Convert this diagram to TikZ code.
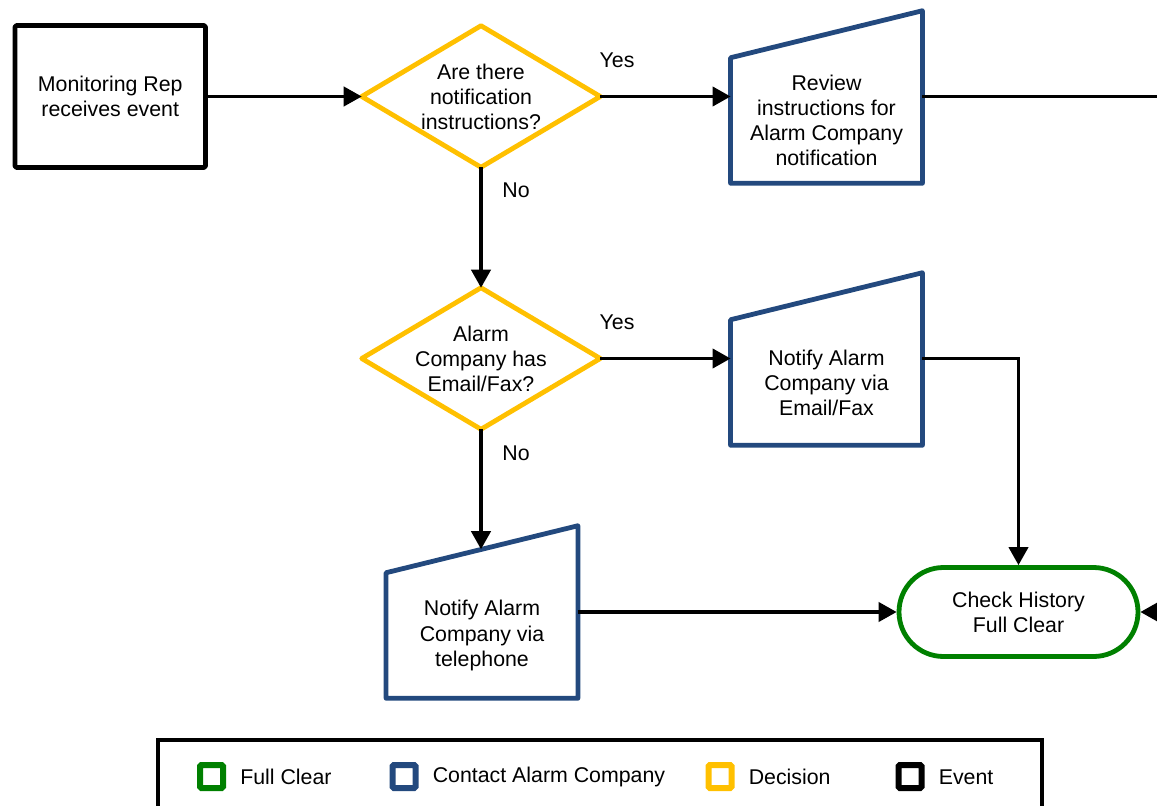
\documentclass[tikz,border=0pt]{standalone}
\usepackage{fontspec}
\setmainfont{Liberation Sans}
\usetikzlibrary{arrows.meta,shapes.misc,calc}

\definecolor{evtblack}{HTML}{000000}
\definecolor{decyellow}{HTML}{FFC000}
\definecolor{contactblue}{HTML}{23497E}
\definecolor{cleargreen}{HTML}{008000}

\begin{document}
\begin{tikzpicture}[x=0.75pt,y=-0.75pt,
  every node/.style={font=\fontsize{16}{18.8}\selectfont, align=center},
  shapeline/.style={line width=3.6pt, line join=round},
  eventbox/.style={draw=evtblack, shapeline, rounded corners=1.5pt,
    minimum width=142.9pt, minimum height=106.5pt, inner sep=0pt},
  decisionbox/.style={minimum width=178.5pt, minimum height=105.75pt, inner sep=0pt},
  inputbox/.style={minimum width=143.5pt, minimum height=93.75pt, inner sep=0pt},
  clearbox/.style={draw=cleargreen, shapeline, rounded rectangle,
    minimum width=179.25pt, minimum height=66.75pt, inner sep=0pt},
  flow/.style={line width=2.3pt, -{Triangle[length=13.5pt,width=14.5pt]}},
  plainflow/.style={line width=2.3pt},
  answer/.style={inner sep=0pt},
  legendkey/.style={line width=4.5pt, rounded corners=1pt},
  legendtext/.style={anchor=west, inner sep=0pt}
]
\useasboundingbox (0,0) rectangle (1157,806);
\clip (0,0) rectangle (1157,806);

% ---- event ----
\node[eventbox] (ev) at (110.25,96.5) {Monitoring Rep\\receives event};

% ---- decisions (diamonds drawn through the corner anchors) ----
\node[decisionbox] (d1) at (481,96.5) {Are there\\notification\\instructions?};
\draw[decyellow, shapeline] (d1.north) -- (d1.east) -- (d1.south) -- (d1.west) -- cycle;

\node[decisionbox] (d2) at (481,358.5) {Alarm\\Company has\\Email/Fax?};
\draw[decyellow, shapeline] (d2.north) -- (d2.east) -- (d2.south) -- (d2.west) -- cycle;

% ---- contact steps (manual input shapes with a sloped top) ----
\node[inputbox] (rev) at (826.5,120.5) {Review\\instructions for\\Alarm Company\\notification};
\draw[contactblue, shapeline] (rev.south west) -- (rev.north west)
  -- ($(rev.north east)+(0,-47)$) -- (rev.south east) -- cycle;

\node[inputbox] (eml) at (826.5,382.5) {Notify Alarm\\Company via\\Email/Fax};
\draw[contactblue, shapeline] (eml.south west) -- (eml.north west)
  -- ($(eml.north east)+(0,-47)$) -- (eml.south east) -- cycle;

\node[inputbox] (tel) at (482,635.5) {Notify Alarm\\Company via\\telephone};
\draw[contactblue, shapeline] (tel.south west) -- (tel.north west)
  -- coordinate (teltop) ($(tel.north east)+(0,-47)$) -- (tel.south east) -- cycle;

% ---- full clear ----
\node[clearbox] (term) at (1018.5,612) {Check History\\Full Clear};

% ---- loose ends at the right border ----
\coordinate (outR) at (1165,96.5);
\coordinate (inR) at (1165,612);

% ---- connectors ----
\draw[flow] (ev.east) -- (d1.west);
\draw[flow] (d1.east) -- (d1.east -| rev.west);
\draw[plainflow] (rev.east |- d1.east) -- (outR);
\draw[flow] (d1.south) -- (d2.north);
\draw[flow] (d2.east) -- (d2.east -| eml.west);
\draw[flow, line join=miter] (eml.east |- d2.east) -- (term.north |- d2.east) -- (term.north);
\draw[flow] (d2.south) -- (d2.south |- teltop);
\draw[flow] (tel.east |- term.west) -- (term.west);
\draw[flow] (inR) -- (term.east);

% ---- branch labels ----
\node[answer] (yes1) at (617,60) {Yes};
\node[answer] (no1) at (516,190) {No};
\node[answer] (yes2) at (617,322) {Yes};
\node[answer] (no2) at (516,453) {No};

% ---- legend ----
\node[draw=black, line width=2.4pt, minimum width=663pt, minimum height=75pt,
  inner sep=0pt] (legend) at (600,790) {};
\draw[cleargreen, legendkey] (200,765) rectangle (223,788);
\node[legendtext] (lgclear) at (240,777) {Full Clear};
\draw[contactblue, legendkey] (392.5,765) rectangle (415.5,788);
\node[legendtext] (lgcontact) at (432.5,777) {Contact Alarm Company};
\draw[decyellow, legendkey] (708.5,765) rectangle (731.5,788);
\node[legendtext] (lgdecision) at (748.5,777) {Decision};
\draw[evtblack, legendkey] (898.5,765) rectangle (921.5,788);
\node[legendtext] (lgevent) at (938.5,777) {Event};
\end{tikzpicture}
\end{document}
